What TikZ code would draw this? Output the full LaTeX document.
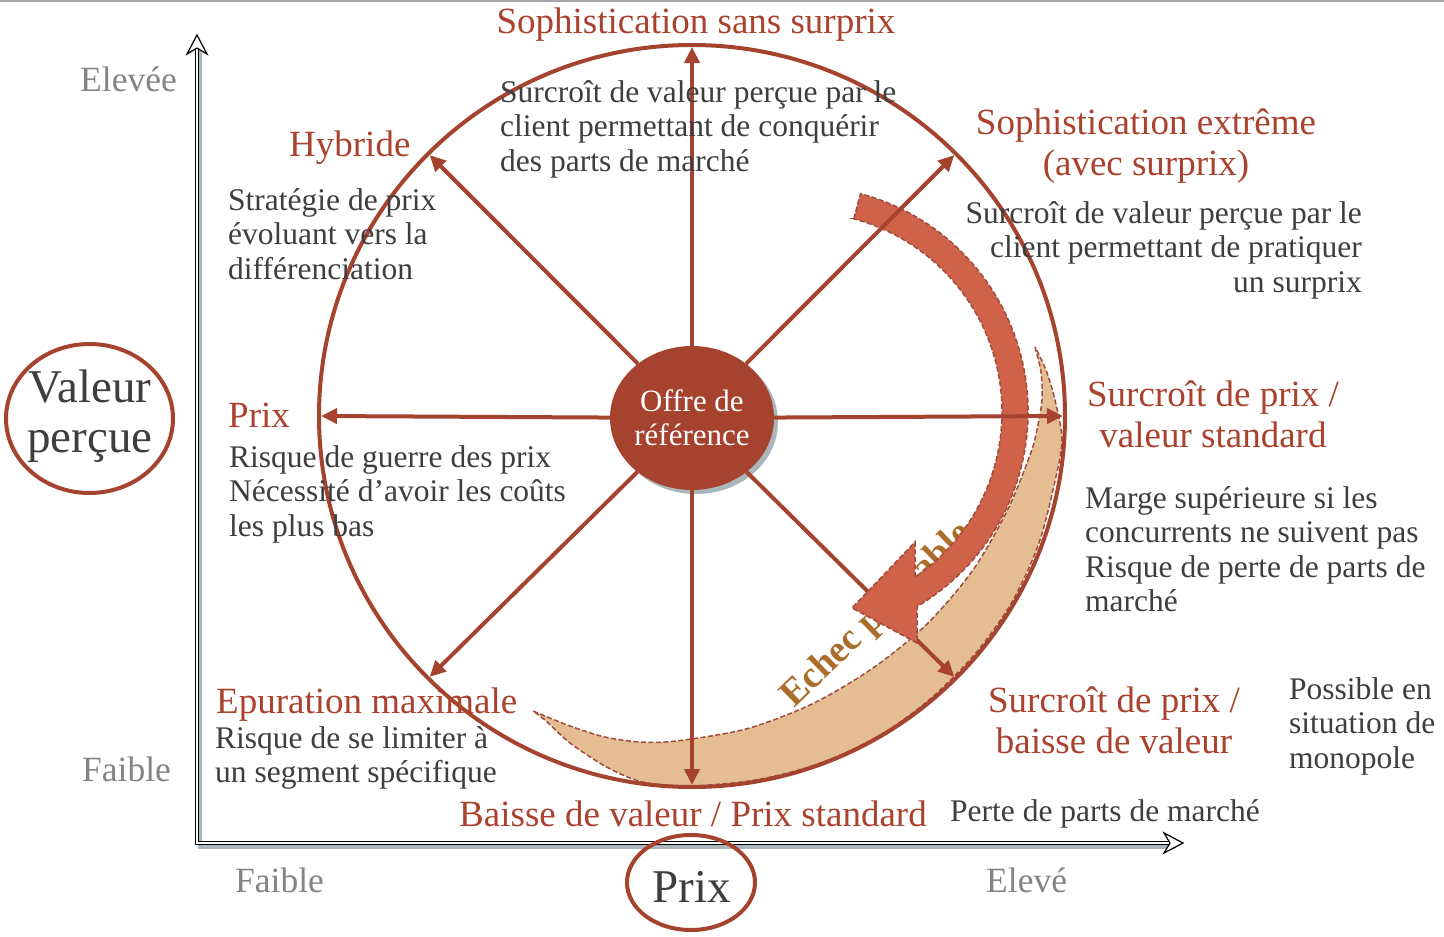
\documentclass[tikz,border=0pt]{standalone}
\usepackage{fontspec}
\setmainfont{Liberation Serif}
\usetikzlibrary{arrows.meta,shapes.geometric}

\definecolor{brick}{RGB}{165,67,47}
\definecolor{titlered}{RGB}{170,66,46}
\definecolor{bodygray}{RGB}{62,62,62}
\definecolor{axisgray}{RGB}{132,132,132}
\definecolor{coral}{RGB}{209,98,74}
\definecolor{sand}{RGB}{228,189,146}
\definecolor{dashbrown}{RGB}{160,76,60}
\definecolor{ochre}{RGB}{170,110,42}
\definecolor{shadowgray}{RGB}{170,182,188}

\newcommand\fbody{\fontsize{31.5}{34.5}\selectfont}
\newcommand\ftitle{\fontsize{37}{41}\selectfont}
\newcommand\faxis{\fontsize{35.5}{40}\selectfont}
\newcommand\fbig{\fontsize{47}{50}\selectfont}
\newcommand\fcenter{\fontsize{31}{34}\selectfont}
\newcommand\fechec{\fontsize{38}{42}\selectfont\bfseries}
\newcommand\bodystrut{\rule{0pt}{24.2pt}}
\newcommand\titlestrut{\rule{0pt}{28.7pt}}

\begin{document}
\begin{tikzpicture}[x=1pt,y=-1pt,
  spoke/.style={brick, line width=4pt, -{Triangle[length=16pt,width=15pt]}},
  bodytext/.style={inner sep=0pt, text=bodygray, font=\fbody},
  titletext/.style={inner sep=0pt, text=titlered, font=\ftitle},
  axislabel/.style={inner sep=0pt, text=axisgray, font=\faxis, anchor=base west},
  band/.style={draw=dashbrown, line width=1.5pt, dash pattern=on 5pt off 2.5pt},
  axisline/.style={draw=black, double=white, double distance=1.4pt, line width=1.1pt},
  axisshadow/.style={draw=shadowgray, line width=4pt},
  axishead/.style={fill=white, draw=black, line width=1.2pt, line join=miter},
  ring/.style={draw=brick, line width=4pt, ellipse, inner sep=0pt}
]
% canvas
\fill[white] (0,0) rectangle (1444,937);
\useasboundingbox (0,0) rectangle (1444,937);
\draw[gray!70, line width=1.5pt] (0,0.75) -- (1444,0.75);

% axes
\coordinate (O) at (197,843);
\coordinate (Ytop) at (197,46);
\coordinate (Xend) at (1172,843);
\draw[axisshadow] ([shift={(3,4)}]Ytop) -- ([shift={(3,4)}]O) -- ([shift={(3,4)}]Xend);
\draw[axisline] (Ytop) -- (O) -- (Xend);
\filldraw[axishead] (197,35) -- (207,54) -- (197,48) -- (187,54) -- cycle;
\filldraw[axishead] (1183,843) -- (1164,833) -- (1170,843) -- (1164,853) -- cycle;

% tapered sand-coloured sweep
\path[band, fill=sand]
  plot[smooth, tension=0.5] coordinates {(1035,347) (1041,372) (1042,400) (1037,430) (1030,455)
    (1008,509) (973,570) (927,624) (873,668) (812,704) (746,729) (676,741) (640,742) (605,737)
    (570,726) (533,711)}
  -- plot[smooth, tension=0.5] coordinates {(533,711) (545,720) (570,743) (603,765) (630,778)
    (653,784) (692,786) (756,780) (818,764) (877,737) (929,700) (975,654) (1012,602) (1039,543)
    (1055,481) (1062,440) (1055,400) (1046,370) (1035,347)}
  -- cycle;

% outer wheel
\node[ring, minimum width=746pt, minimum height=742pt] (wheel) at (692,416) {};

% spoke end points on the wheel
\coordinate (tipU)  at (692,47);
\coordinate (tipD)  at (692,785);
\coordinate (tipL)  at (321,416);
\coordinate (tipR)  at (1063,416);
\coordinate (tipUL) at (429.7,155.1);
\coordinate (tipUR) at (954.3,155.1);
\coordinate (tipLL) at (429.7,676.9);
\coordinate (tipLR) at (954.3,676.9);

% central offer
\node[ellipse, fill=shadowgray, minimum width=164pt, minimum height=144pt, inner sep=0pt] (refshadow) at (696,422) {};
\node[ellipse, fill=brick, minimum width=164pt, minimum height=144pt, inner sep=0pt,
      text=white, font=\fcenter, align=center] (ref) at (692,418) {Offre de\\référence};

\draw[spoke] (ref) -- (tipLR);

\node[rotate=44, text=ochre, font=\fechec, inner sep=0pt, anchor=base west] (echec) at (794,709)
  {\scalebox{0.99}[1]{Echec probable}};

% curved coral arrow
\path[band, fill=coral]
  (853.8,218.8) -- (860.5,193.7) arc[start angle=-75, end angle=59.4, radius=226]
  -- (917,643) -- (852,608) -- (915,542) -- (915,577)
  arc[start angle=55.6, end angle=-75, radius=200] -- cycle;

\draw[spoke] (ref) -- (tipU);
\draw[spoke] (ref) -- (tipD);
\draw[spoke] (ref) -- (tipL);
\draw[spoke] (ref) -- (tipR);
\draw[spoke] (ref) -- (tipUL);
\draw[spoke] (ref) -- (tipUR);
\draw[spoke] (ref) -- (tipLL);

% axis titles in their rings
\node[ring, minimum width=167pt, minimum height=149pt] (valeurring) at (89.5,418.5) {};
\node[inner sep=0pt, text=bodygray, font=\fbig, align=center, anchor=north] (valeur) at (90,370)
  {\rule{0pt}{32pt}Valeur\\perçue};
\node[ring, minimum width=128pt, minimum height=95pt] (prixring) at (691,882.5) {};
\node[inner sep=0pt, text=bodygray, font=\fbig, anchor=base] (prixaxis) at (692,902) {Prix};
\node[axislabel] (yhigh) at (80,91) {Elevée};
\node[axislabel] (ylow) at (82,781) {Faible};
\node[axislabel] (xlow) at (235,892) {Faible};
\node[axislabel] (xhigh) at (986,892) {Elevé};

% strategy titles
\node[titletext, anchor=base] (t1) at (696,33) {Sophistication sans surprix};
\node[titletext, anchor=base west] (t2) at (289,156) {Hybride};
\node[titletext, anchor=north, align=center] (t3) at (1146,106) {\titlestrut Sophistication extrême\\(avec surprix)};
\node[titletext, anchor=base west] (t4) at (228,427) {Prix};
\node[titletext, anchor=north, align=center] (t5) at (1213,378) {\titlestrut Surcroît de prix /\\valeur standard};
\node[titletext, anchor=base west] (t6) at (216,713) {Epuration maximale};
\node[titletext, anchor=north, align=center] (t7) at (1114,684) {\titlestrut Surcroît de prix /\\baisse de valeur};
\node[titletext, anchor=base] (t8) at (693,826) {Baisse de valeur / Prix standard};

% strategy descriptions
\node[bodytext, anchor=north west, align=left] (d1) at (500,78)
  {\bodystrut Surcroît de valeur perçue par le\\client permettant de conquérir\\des parts de marché};
\node[bodytext, anchor=north west, align=left] (d2) at (228,186)
  {\bodystrut Stratégie de prix\\évoluant vers la\\différenciation};
\node[bodytext, anchor=north east, align=right] (d3) at (1362,199)
  {\bodystrut Surcroît de valeur perçue par le\\client permettant de pratiquer\\un surprix};
\node[bodytext, anchor=north west, align=left] (d4) at (229,443)
  {\bodystrut Risque de guerre des prix\\Nécessité d’avoir les coûts\\les plus bas};
\node[bodytext, anchor=north west, align=left] (d5) at (1085,484)
  {\bodystrut Marge supérieure si les\\concurrents ne suivent pas\\Risque de perte de parts de\\marché};
\node[bodytext, anchor=north west, align=left] (d6) at (215,724)
  {\bodystrut Risque de se limiter à\\un segment spécifique};
\node[bodytext, anchor=north west, align=left] (d7) at (1289,675)
  {\bodystrut Possible en\\situation de\\monopole};
\node[bodytext, anchor=base west] (d8) at (950,821) {Perte de parts de marché};
\end{tikzpicture}
\end{document}
